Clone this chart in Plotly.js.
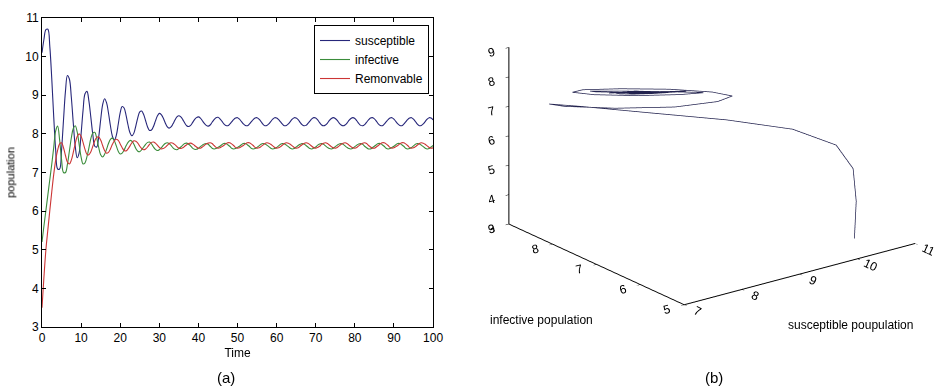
<!DOCTYPE html>
<html>
<head>
<meta charset="utf-8">
<script src="https://cdn.plot.ly/plotly-3.0.1.min.js"></script>
<style>html,body{margin:0;padding:0;background:#fff;}#chart{width:948px;height:389px;}</style>
</head>
<body>
<div id="chart"></div>
<script>
// time grid: 0 to 100, step 0.5
var timeStart = 0, timeStep = 0.5, timeCount = 201;
var time = [];
for (var k = 0; k < timeCount; k++) { time.push(timeStart + k * timeStep); }

var susceptible = [
10.10,10.45,10.70,10.71,10.26,9.42,8.44,7.58,7.09,7.09,
7.58,8.36,9.10,9.51,9.42,8.95,8.28,7.68,7.38,7.51,
8.00,8.61,9.04,9.10,8.85,8.42,7.98,7.68,7.66,7.92,
8.36,8.75,8.91,8.81,8.54,8.21,7.94,7.84,7.96,8.25,
8.55,8.71,8.67,8.48,8.23,8.03,7.95,8.02,8.21,8.42,
8.57,8.59,8.50,8.34,8.18,8.09,8.10,8.19,8.33,8.46,
8.53,8.50,8.41,8.29,8.19,8.15,8.18,8.26,8.36,8.44,
8.47,8.44,8.37,8.28,8.21,8.19,8.22,8.29,8.37,8.42,
8.44,8.41,8.34,8.27,8.22,8.20,8.23,8.30,8.37,8.42,
8.43,8.39,8.33,8.26,8.22,8.21,8.25,8.31,8.37,8.41,
8.42,8.38,8.32,8.26,8.22,8.21,8.25,8.31,8.37,8.41,
8.42,8.38,8.32,8.25,8.21,8.22,8.26,8.32,8.38,8.42,
8.41,8.37,8.31,8.25,8.21,8.22,8.26,8.32,8.38,8.42,
8.41,8.37,8.30,8.24,8.21,8.22,8.27,8.33,8.39,8.42,
8.41,8.36,8.29,8.23,8.21,8.23,8.28,8.35,8.40,8.42,
8.40,8.35,8.28,8.23,8.21,8.23,8.28,8.35,8.40,8.42,
8.40,8.34,8.27,8.22,8.21,8.24,8.30,8.36,8.41,8.42,
8.39,8.33,8.26,8.22,8.21,8.25,8.31,8.37,8.41,8.42,
8.38,8.32,8.26,8.22,8.21,8.25,8.31,8.37,8.41,8.42,
8.38,8.32,8.25,8.21,8.22,8.26,8.32,8.38,8.42,8.41,
8.36];

var infective = [
5.20,5.62,6.02,6.42,6.82,7.22,7.65,8.08,8.20,7.85,
7.34,7.00,7.00,7.21,7.55,7.90,8.14,8.21,8.05,7.73,
7.40,7.22,7.25,7.41,7.64,7.88,8.02,8.04,7.89,7.65,
7.46,7.40,7.47,7.60,7.75,7.86,7.89,7.82,7.69,7.55,
7.48,7.50,7.58,7.69,7.78,7.83,7.81,7.73,7.62,7.55,
7.54,7.59,7.66,7.73,7.78,7.79,7.74,7.66,7.60,7.57,
7.59,7.64,7.70,7.75,7.77,7.75,7.70,7.64,7.60,7.59,
7.62,7.66,7.71,7.75,7.76,7.73,7.69,7.63,7.60,7.60,
7.63,7.67,7.71,7.74,7.75,7.73,7.68,7.63,7.61,7.62,
7.65,7.68,7.72,7.75,7.75,7.72,7.68,7.63,7.61,7.62,
7.65,7.68,7.72,7.75,7.75,7.72,7.68,7.63,7.61,7.62,
7.65,7.69,7.73,7.75,7.74,7.71,7.67,7.63,7.61,7.62,
7.65,7.69,7.73,7.75,7.74,7.71,7.67,7.63,7.61,7.62,
7.66,7.70,7.73,7.75,7.74,7.70,7.66,7.62,7.61,7.63,
7.66,7.71,7.74,7.75,7.73,7.69,7.65,7.62,7.61,7.63,
7.67,7.71,7.74,7.75,7.73,7.69,7.65,7.62,7.61,7.63,
7.67,7.71,7.74,7.75,7.73,7.68,7.64,7.61,7.61,7.64,
7.68,7.72,7.75,7.75,7.72,7.68,7.63,7.61,7.62,7.65,
7.68,7.72,7.75,7.75,7.72,7.68,7.63,7.61,7.62,7.65,
7.69,7.73,7.75,7.74,7.71,7.67,7.63,7.61,7.62,7.66,
7.70];

var removable = [
3.50,4.30,5.00,5.52,6.02,6.50,6.95,7.32,7.58,7.74,
7.77,7.64,7.44,7.27,7.22,7.32,7.52,7.75,7.93,8.00,
7.94,7.78,7.60,7.47,7.46,7.54,7.68,7.82,7.91,7.92,
7.84,7.70,7.57,7.50,7.52,7.61,7.73,7.82,7.86,7.83,
7.74,7.64,7.57,7.56,7.61,7.69,7.77,7.82,7.81,7.76,
7.68,7.62,7.59,7.61,7.66,7.73,7.78,7.79,7.76,7.71,
7.65,7.61,7.62,7.65,7.70,7.75,7.77,7.76,7.72,7.67,
7.63,7.62,7.64,7.68,7.72,7.75,7.76,7.74,7.70,7.66,
7.63,7.63,7.66,7.70,7.74,7.76,7.77,7.75,7.70,7.65,
7.63,7.64,7.67,7.70,7.74,7.77,7.77,7.74,7.70,7.65,
7.63,7.64,7.67,7.70,7.74,7.77,7.77,7.74,7.70,7.65,
7.63,7.64,7.67,7.71,7.75,7.77,7.76,7.73,7.69,7.65,
7.63,7.64,7.67,7.71,7.75,7.77,7.76,7.73,7.69,7.65,
7.63,7.64,7.68,7.72,7.75,7.77,7.76,7.72,7.68,7.64,
7.63,7.65,7.68,7.73,7.76,7.77,7.75,7.71,7.67,7.64,
7.63,7.65,7.69,7.73,7.76,7.77,7.75,7.71,7.67,7.64,
7.63,7.65,7.69,7.73,7.76,7.77,7.75,7.70,7.66,7.63,
7.63,7.66,7.70,7.74,7.77,7.77,7.74,7.70,7.65,7.63,
7.64,7.67,7.70,7.74,7.77,7.77,7.74,7.70,7.65,7.63,
7.64,7.67,7.71,7.75,7.77,7.76,7.73,7.69,7.65,7.63,
7.64];

var seriesNames = ['susceptible', 'infective', 'Remonvable'];
var xTicks = [0,10,20,30,40,50,60,70,80,90,100];
var yTicks = [3,4,5,6,7,8,9,10,11];
var sTicks = [7,8,9,10,11];
var iTicks = [5,6,7,8,9];
var zTicks = [3,4,5,6,7,8,9];

var FONT = 'Liberation Sans, Arial, Helvetica, sans-serif';

var traces = [
  {x: time, y: susceptible, type: 'scatter', mode: 'lines', name: seriesNames[0],
   line: {color: '#27277a', width: 1.1, shape: 'spline'}},
  {x: time, y: infective, type: 'scatter', mode: 'lines', name: seriesNames[1],
   line: {color: '#3b8c3b', width: 1.1, shape: 'spline'}},
  {x: time, y: removable, type: 'scatter', mode: 'lines', name: seriesNames[2],
   line: {color: '#cc3535', width: 1.1, shape: 'spline'}},
  {x: susceptible, y: infective, z: removable, type: 'scatter3d', mode: 'lines',
   showlegend: false, line: {color: '#22224e', width: 1.5}}
];

function axis3d(range, ticks) {
  return {
    range: range, tickvals: ticks, ticktext: ticks.map(String),
    title: {text: ''},
    showgrid: false, showbackground: false, zeroline: false, showspikes: false,
    showline: true, linecolor: '#000', linewidth: 2,
    ticks: 'outside', ticklen: 4, tickcolor: '#000', tickwidth: 1,
    tickfont: {family: FONT, size: 12, color: '#000'}
  };
}

var zoom3d = 1.62;
var kEye = 1.5;
var dir = {x: -0.5666, y: -0.7463, z: 0.3494};
var cen = {x: 0, y: 0, z: -0.20};
var layout = {
  width: 948, height: 389,
  margin: {l: 0, r: 0, t: 0, b: 0},
  paper_bgcolor: '#fff', plot_bgcolor: '#fff',
  font: {family: FONT, size: 12, color: '#000'},
  showlegend: true,
  xaxis: {
    domain: [0.0443, 0.4568], range: [0, 100], tickvals: xTicks,
    ticks: 'inside', ticklen: 4, tickcolor: '#000',
    showline: true, mirror: 'ticks', linecolor: '#000', linewidth: 1,
    showgrid: false, zeroline: false,
    tickfont: {family: FONT, size: 12},
    title: {text: 'Time', standoff: 4, font: {family: FONT, size: 12}}
  },
  yaxis: {
    domain: [0.1594, 0.9537], range: [3, 11], tickvals: yTicks,
    ticks: 'inside', ticklen: 4, tickcolor: '#000',
    showline: true, mirror: 'ticks', linecolor: '#000', linewidth: 1,
    showgrid: false, zeroline: false,
    tickfont: {family: FONT, size: 12},
    title: {text: 'population', standoff: 8, font: {family: FONT, size: 11}}
  },
  legend: {
    x: 0.3312, y: 0.9357, xanchor: 'left', yanchor: 'top',
    bordercolor: '#000', borderwidth: 1, bgcolor: '#fff',
    font: {family: FONT, size: 12}, tracegroupgap: 0
  },
  scene: {
    domain: {x: [0.502, 1.0], y: [0.08, 1.0]},
    bgcolor: '#fff',
    aspectmode: 'manual', aspectratio: {x: 1 * zoom3d, y: 1 * zoom3d, z: 0.65 * zoom3d},
    camera: {
      eye: {x: cen.x + dir.x * kEye, y: cen.y + dir.y * kEye, z: cen.z + dir.z * kEye},
      up: {x: 0, y: 0, z: 1}, center: cen,
      projection: {type: 'orthographic'}
    },
    xaxis: axis3d([7, 11], sTicks),
    yaxis: axis3d([5, 9], iTicks),
    zaxis: axis3d([3, 9], zTicks)
  },
  annotations: [
    {text: '(a)', xref: 'paper', yref: 'paper', x: 226 / 948, y: 1 - 377 / 389,
     xanchor: 'center', yanchor: 'middle', showarrow: false, font: {family: FONT, size: 15}},
    {text: '(b)', xref: 'paper', yref: 'paper', x: 714 / 948, y: 1 - 377 / 389,
     xanchor: 'center', yanchor: 'middle', showarrow: false, font: {family: FONT, size: 15}},
    {text: 'infective population', xref: 'paper', yref: 'paper', x: 541 / 948, y: 1 - 320 / 389,
     xanchor: 'center', yanchor: 'middle', showarrow: false, font: {family: FONT, size: 12}},
    {text: 'susceptible poupulation', xref: 'paper', yref: 'paper', x: 850 / 948, y: 1 - 325 / 389,
     xanchor: 'center', yanchor: 'middle', showarrow: false, font: {family: FONT, size: 12}}
  ]
};

Plotly.newPlot('chart', traces, layout, {displayModeBar: false, responsive: false});
</script>
</body>
</html>
